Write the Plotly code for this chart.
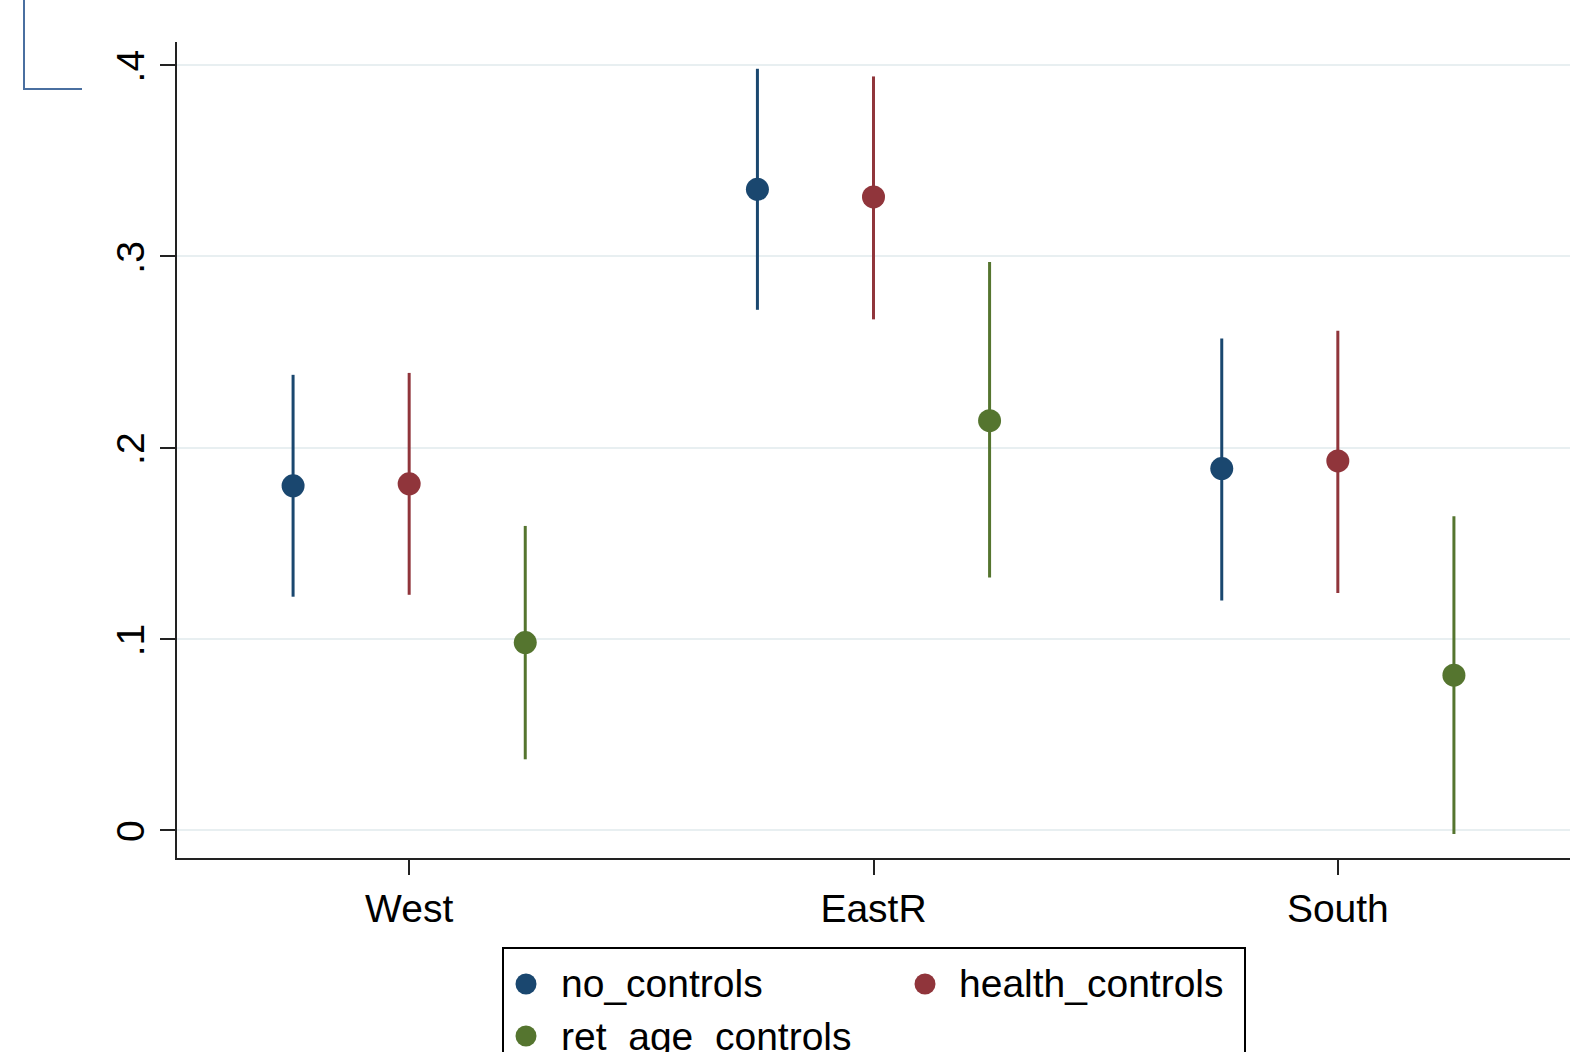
import plotly.graph_objects as go

regions = ["West", "EastR", "South"]
series = ["no_controls", "health_controls", "ret_age_controls"]
colors = ["#1a476f", "#90353b", "#55752f"]
offsets = [-0.25, 0.0, 0.25]

est = {
    "no_controls":      [0.180, 0.335, 0.189],
    "health_controls":  [0.181, 0.331, 0.193],
    "ret_age_controls": [0.098, 0.214, 0.081],
}
ci_hi = {
    "no_controls":      [0.238, 0.398, 0.257],
    "health_controls":  [0.239, 0.394, 0.261],
    "ret_age_controls": [0.159, 0.297, 0.164],
}
ci_lo = {
    "no_controls":      [0.122, 0.272, 0.120],
    "health_controls":  [0.123, 0.267, 0.124],
    "ret_age_controls": [0.037, 0.132, -0.002],
}
yticks = [0, 0.1, 0.2, 0.3, 0.4]
ytick_text = ["0", ".1", ".2", ".3", ".4"]

W, H = 1590, 1052
L, R, T, B = 177, 20, 42, 194
PW, PH = W - L - R, H - T - B
FONT = "Liberation Sans, Arial, sans-serif"
FS = 39


def px(x):
    return (x - L) / PW


def py(y):
    return (H - B - y) / PH


fig = go.Figure()
for s, c, off in zip(series, colors, offsets):
    xs = [i + 1 + off for i in range(len(regions))]
    ys = est[s]
    fig.add_trace(go.Scatter(
        x=xs, y=ys, mode="markers", name=s,
        marker=dict(color=c, size=23, line=dict(width=0)),
        error_y=dict(type="data", symmetric=False,
                     array=[h - y for h, y in zip(ci_hi[s], ys)],
                     arrayminus=[y - l for l, y in zip(ci_lo[s], ys)],
                     color=c, thickness=3, width=0),
    ))

fig.update_layout(
    width=W, height=H,
    margin=dict(l=L, r=R, t=T, b=B, autoexpand=False),
    paper_bgcolor="white", plot_bgcolor="white",
    font=dict(family=FONT, size=FS, color="black"),
    showlegend=False,
    xaxis=dict(range=[0.5, 3.5], tickmode="array", tickvals=[1, 2, 3], ticktext=regions,
               showgrid=False, zeroline=False, showline=True, linecolor="#222222", linewidth=2,
               ticks="outside", ticklen=15, tickwidth=2, tickcolor="#222222",
               tickfont=dict(size=FS, family=FONT)),
    yaxis=dict(range=[-0.0146, 0.412], tickmode="array", tickvals=yticks, ticktext=ytick_text,
               showgrid=True, gridcolor="#e8eff1", gridwidth=2, zeroline=False,
               showline=True, linecolor="#222222", linewidth=2,
               ticks="outside", ticklen=15, tickwidth=2, tickcolor="#222222",
               tickangle=-90, ticklabelshift=7, tickfont=dict(size=FS, family=FONT)),
)

# stray frame corner at top-left
fig.add_shape(type="path", xref="paper", yref="paper",
              path="M {} {} L {} {} L {} {}".format(px(24), py(-5), px(24), py(89), px(82), py(89)),
              line=dict(color="#4a6fa0", width=2))

# legend drawn as a box with symbols and text (bottom is cut off by the image edge)
fig.add_shape(type="rect", xref="paper", yref="paper",
              x0=px(503), x1=px(1245), y0=py(1100), y1=py(948),
              line=dict(color="black", width=2), fillcolor="white", layer="above")
leg_pos = [(526, 559, 984), (925, 957, 984), (526, 559, 1036)]
for s, c, (mx, tx, ly) in zip(series, colors, leg_pos):
    r = 10.5
    fig.add_shape(type="circle", xref="paper", yref="paper",
                  x0=px(mx - r), x1=px(mx + r), y0=py(ly + r), y1=py(ly - r),
                  line=dict(width=0), fillcolor=c, layer="above")
    fig.add_annotation(xref="paper", yref="paper", x=px(tx), y=py(ly),
                       text=s, showarrow=False, xanchor="left", yanchor="middle",
                       font=dict(size=FS, family=FONT, color="black"))

fig.write_html("out.html", config={"displayModeBar": False},
               post_script="document.body.style.margin='0';document.body.style.overflow='hidden';")
